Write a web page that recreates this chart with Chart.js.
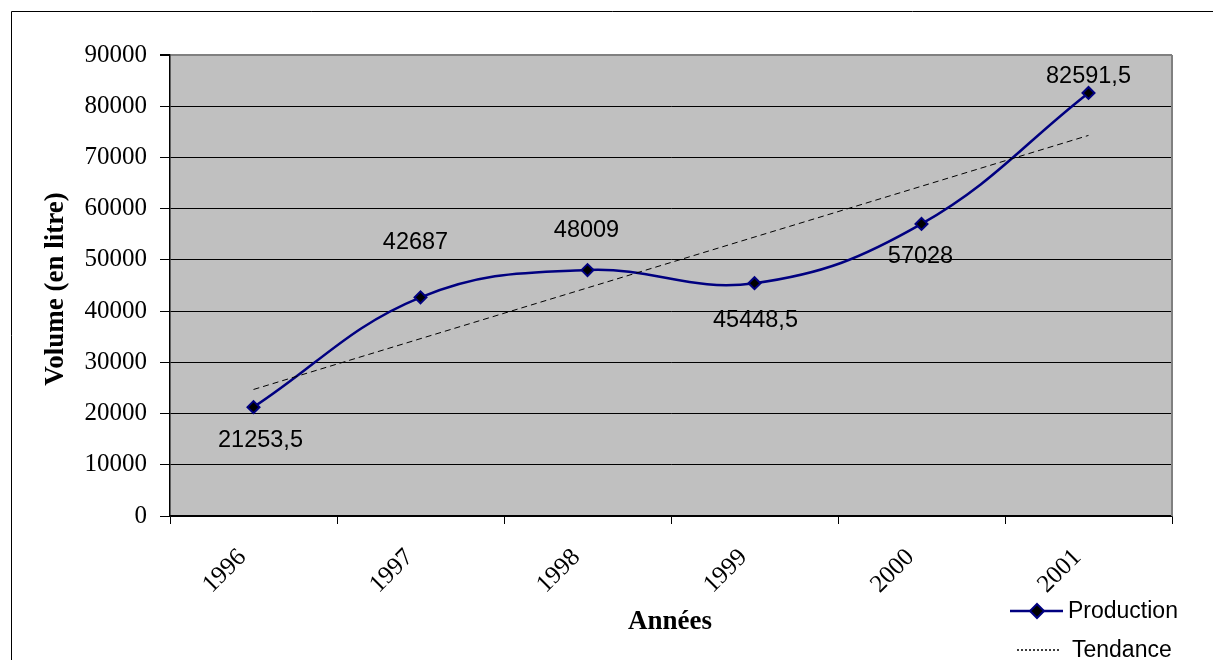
<!DOCTYPE html>
<html>
<head>
<meta charset="utf-8">
<script src="https://cdn.jsdelivr.net/npm/chart.js@4.4.0/dist/chart.umd.min.js"></script>
<style>
  html, body { margin: 0; padding: 0; background: #fff; overflow: hidden; }
  #wrap { position: relative; width: 1213px; height: 660px; }
</style>
</head>
<body>
<div id="wrap"><canvas id="graphique" width="1213" height="660"></canvas></div>
<script>
// --- DONNÉES ---
const annees = ['1996', '1997', '1998', '1999', '2000', '2001'];
const production = [21253.5, 42687, 48009, 45448.5, 57028, 82591.5];
const etiquettes = ['21253,5', '42687', '48009', '45448,5', '57028', '82591,5'];
// droite de tendance (extrémités seulement)
const tendance = [24700, null, null, null, null, 74300];
const graduationsY = [0, 10000, 20000, 30000, 40000, 50000, 60000, 70000, 80000, 90000];

// --- MISE EN PAGE ---
const decalagesEtiquettes = [[7, 33], [-5, -55], [-1, -40], [1, 37], [-1, 33], [0, -16]];
const MARINE = '#000080';
const SERIF = '"Liberation Serif", "Times New Roman", serif';
const SANS = '"Liberation Sans", Arial, sans-serif';

const fondGris = {
    id: 'fondGris',
    beforeDraw(chart) {
        const { ctx, chartArea: a } = chart;
        ctx.save();
        ctx.fillStyle = '#C0C0C0';
        ctx.fillRect(a.left, a.top, a.right - a.left, a.bottom - a.top);
        ctx.restore();
    }
};

const habillage = {
    id: 'habillage',
    afterDraw(chart) {
        const { ctx, chartArea: a } = chart;
        ctx.save();

        // cadre extérieur (haut et gauche)
        ctx.strokeStyle = '#000';
        ctx.lineWidth = 1;
        ctx.beginPath();
        ctx.moveTo(11.5, 660);
        ctx.lineTo(11.5, 11.5);
        ctx.lineTo(1213, 11.5);
        ctx.stroke();

        // bord droit de la zone de traçage
        ctx.strokeStyle = '#808080';
        ctx.lineWidth = 2;
        ctx.beginPath();
        ctx.moveTo(a.right, a.top);
        ctx.lineTo(a.right, a.bottom);
        ctx.stroke();

        // étiquettes de données
        const meta = chart.getDatasetMeta(1);
        ctx.fillStyle = '#000';
        ctx.font = '23.5px ' + SANS;
        ctx.textAlign = 'center';
        ctx.textBaseline = 'middle';
        meta.data.forEach((pt, i) => {
            const [dx, dy] = decalagesEtiquettes[i];
            ctx.fillText(etiquettes[i], pt.x + dx, pt.y + dy);
        });

        // titres des axes
        ctx.font = 'bold 27px ' + SERIF;
        ctx.fillText('Années', 670, 622);
        ctx.save();
        ctx.translate(56, 289);
        ctx.rotate(-Math.PI / 2);
        ctx.fillText('Volume (en litre)', 0, 0);
        ctx.restore();

        // légende
        ctx.strokeStyle = MARINE;
        ctx.lineWidth = 2.5;
        ctx.beginPath();
        ctx.moveTo(1010, 611);
        ctx.lineTo(1063, 611);
        ctx.stroke();
        ctx.fillStyle = '#000';
        ctx.beginPath();
        ctx.moveTo(1037, 604);
        ctx.lineTo(1044, 611);
        ctx.lineTo(1037, 618);
        ctx.lineTo(1030, 611);
        ctx.closePath();
        ctx.fill();
        ctx.strokeStyle = MARINE;
        ctx.lineWidth = 2;
        ctx.stroke();

        ctx.strokeStyle = '#000';
        ctx.lineWidth = 1.5;
        ctx.setLineDash([2, 2]);
        ctx.beginPath();
        ctx.moveTo(1017, 650);
        ctx.lineTo(1060, 650);
        ctx.stroke();
        ctx.setLineDash([]);

        ctx.fillStyle = '#000';
        ctx.font = '23px ' + SANS;
        ctx.textAlign = 'left';
        ctx.fillText('Production', 1068, 612);
        ctx.fillText('Tendance', 1072, 651);
        ctx.restore();
    }
};

new Chart(document.getElementById('graphique'), {
    type: 'line',
    data: {
        labels: annees,
        datasets: [
            {
                label: 'Tendance',
                data: tendance,
                spanGaps: true,
                borderColor: '#000',
                borderWidth: 1,
                borderDash: [6, 4],
                pointRadius: 0,
                tension: 0,
                fill: false
            },
            {
                label: 'Production',
                data: production,
                borderColor: MARINE,
                borderWidth: 2.5,
                tension: 0.4,
                pointStyle: 'rectRot',
                pointRadius: 6,
                pointBackgroundColor: '#000',
                pointBorderColor: MARINE,
                pointBorderWidth: 2,
                fill: false
            }
        ]
    },
    options: {
        responsive: false,
        animation: false,
        devicePixelRatio: 1,
        layout: { padding: { left: 0, top: 55, right: 41, bottom: 0 } },
        plugins: {
            legend: { display: false },
            tooltip: { enabled: false }
        },
        scales: {
            x: {
                type: 'category',
                offset: true,
                grid: {
                    offset: true,
                    drawOnChartArea: false,
                    drawTicks: true,
                    tickLength: 8,
                    tickColor: '#000'
                },
                border: { color: '#000', width: 1.5 },
                ticks: {
                    color: '#000',
                    minRotation: 45,
                    maxRotation: 45,
                    padding: 19,
                    labelOffset: -11,
                    font: { family: SERIF, size: 25 }
                },
                afterFit(scale) { scale.height = 144; }
            },
            y: {
                min: 0,
                max: 90000,
                afterBuildTicks(scale) {
                    scale.ticks = graduationsY.map(v => ({ value: v }));
                },
                grid: {
                    color: ctx => (ctx.tick && ctx.tick.value === 90000) ? '#808080' : '#000',
                    lineWidth: ctx => (ctx.tick && ctx.tick.value === 90000) ? 2 : 1,
                    tickLength: 10,
                    tickColor: '#000'
                },
                border: { color: '#000', width: 1.5 },
                ticks: {
                    color: '#000',
                    padding: 13,
                    font: { family: SERIF, size: 25 },
                    callback: v => String(v)
                },
                afterFit(scale) { scale.width = 170; }
            }
        }
    },
    plugins: [fondGris, habillage]
});
</script>
</body>
</html>
